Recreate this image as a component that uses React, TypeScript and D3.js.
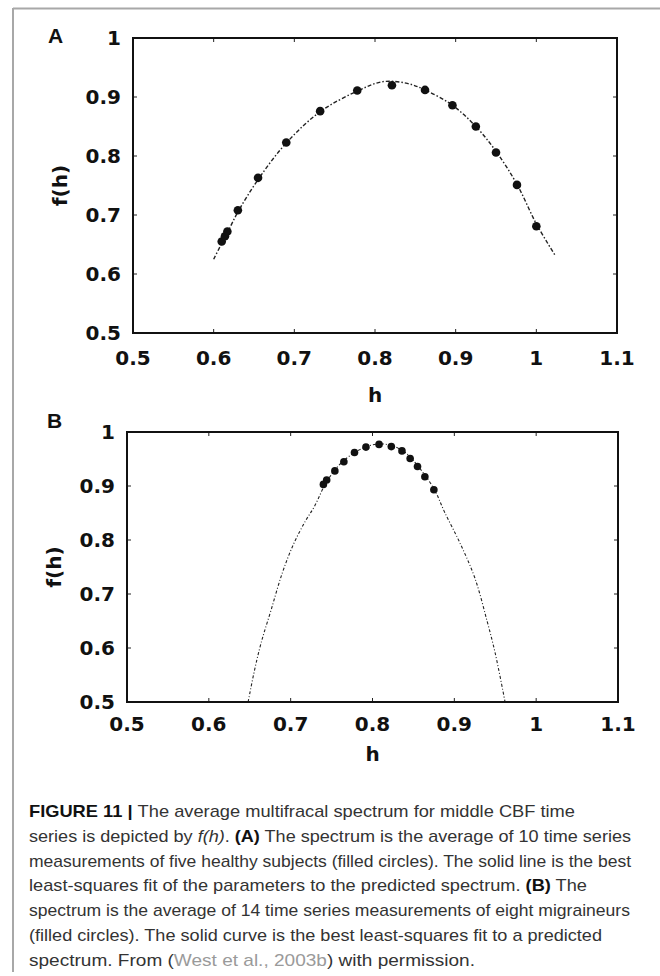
import React from "react";
import * as d3 from "d3";

// ---------- data ----------
const xTickValues = [0.5, 0.6, 0.7, 0.8, 0.9, 1, 1.1];
const xTickLabels = ["0.5", "0.6", "0.7", "0.8", "0.9", "1", "1.1"];
const yTickValues = [0.5, 0.6, 0.7, 0.8, 0.9, 1];
const yTickLabels = ["0.5", "0.6", "0.7", "0.8", "0.9", "1"];

// Panel A: healthy subjects
const pointsA_h = [0.61, 0.614, 0.617, 0.63, 0.655, 0.69, 0.732, 0.778, 0.821, 0.862, 0.896, 0.925, 0.95, 0.976, 1.0];
const pointsA_f = [0.655, 0.664, 0.672, 0.708, 0.763, 0.823, 0.876, 0.911, 0.92, 0.912, 0.886, 0.85, 0.806, 0.751, 0.681];
const fitA_h = [0.6, 0.61, 0.617, 0.63, 0.655, 0.69, 0.732, 0.778, 0.81, 0.84, 0.862, 0.896, 0.925, 0.95, 0.976, 1.0, 1.024];
const fitA_f = [0.625, 0.652, 0.67, 0.705, 0.76, 0.822, 0.875, 0.91, 0.926, 0.923, 0.912, 0.886, 0.85, 0.808, 0.752, 0.685, 0.63];

// Panel B: migraineurs
const pointsB_h = [0.74, 0.744, 0.754, 0.765, 0.778, 0.792, 0.808, 0.823, 0.836, 0.846, 0.855, 0.864, 0.875];
const pointsB_f = [0.903, 0.911, 0.928, 0.945, 0.962, 0.972, 0.977, 0.973, 0.965, 0.951, 0.936, 0.917, 0.893];
const fitB_h = [0.648, 0.656, 0.664, 0.676, 0.69, 0.704, 0.718, 0.729, 0.744, 0.76, 0.778, 0.795, 0.81, 0.825, 0.84, 0.855, 0.875, 0.888, 0.907, 0.925, 0.94, 0.95, 0.962];
const fitB_f = [0.5, 0.56, 0.61, 0.67, 0.74, 0.794, 0.835, 0.862, 0.908, 0.94, 0.962, 0.974, 0.978, 0.974, 0.962, 0.938, 0.895, 0.852, 0.794, 0.73, 0.65, 0.59, 0.5];

const xDomain = [0.5, 1.1];
const yDomain = [0.5, 1];

const captionLines = [
  [{ t: "FIGURE 11 | ", s: "b" }, { t: "The average multifracal spectrum for middle CBF time" }],
  [{ t: "series is depicted by " }, { t: "f(h)", s: "i" }, { t: ". " }, { t: "(A)", s: "b" }, { t: " The spectrum is the average of 10 time series" }],
  [{ t: "measurements of five healthy subjects (filled circles). The solid line is the best" }],
  [{ t: "least-squares fit of the parameters to the predicted spectrum. " }, { t: "(B)", s: "b" }, { t: " The" }],
  [{ t: "spectrum is the average of 14 time series measurements of eight migraineurs" }],
  [{ t: "(filled circles). The solid curve is the best least-squares fit to a predicted" }],
  [{ t: "spectrum. From (" }, { t: "West et al., 2003b", s: "g" }, { t: ") with permission." }],
];
const captionEnds = [575, 631, 631, 587, 630, 602, 475];

// ---------- drawing ----------
const tickFont = "'DejaVu Sans', Verdana, sans-serif";

function Panel({ letter, box, ph, pf, ch, cf, r, dash, lw, letterPos, ylabX, hBase, tickBase }) {
  const x = d3.scaleLinear().domain(xDomain).range([box.left, box.right]);
  const y = d3.scaleLinear().domain(yDomain).range([box.bottom, box.top]);
  const curveData = ch.map((h, i) => [h, cf[i]]);
  const clip = `clip-${letter}`;
  const line = d3
    .line()
    .x((d) => x(d[0]))
    .y((d) => y(d[1]))
    .curve(d3.curveCatmullRom.alpha(0.5));
  const tl = 4;
  return (
    <g>
      <defs>
        <clipPath id={clip}>
          <rect x={box.left} y={box.top} width={box.right - box.left} height={box.bottom - box.top} />
        </clipPath>
      </defs>
      <text x={letterPos[0]} y={letterPos[1]} fontFamily="'Liberation Sans', Arial, sans-serif" fontWeight="bold" fontSize={21} fill="#111">
        {letter}
      </text>
      {xTickValues.map((v) => (
        <g key={"xt" + v}>
          <line x1={x(v)} x2={x(v)} y1={box.bottom} y2={box.bottom - tl} stroke="#222" strokeWidth={1} />
          <line x1={x(v)} x2={x(v)} y1={box.top} y2={box.top + tl} stroke="#222" strokeWidth={1} />
        </g>
      ))}
      {yTickValues.map((v) => (
        <g key={"yt" + v}>
          <line x1={box.left} x2={box.left + tl} y1={y(v)} y2={y(v)} stroke="#222" strokeWidth={1} />
          <line x1={box.right} x2={box.right - tl} y1={y(v)} y2={y(v)} stroke="#222" strokeWidth={1} />
        </g>
      ))}
      <path d={line(curveData) || ""} fill="none" stroke="#222" strokeWidth={lw} strokeDasharray={dash} clipPath={`url(#${clip})`} />
      {ph.map((h, i) => (
        <circle key={"p" + i} cx={x(h)} cy={y(pf[i])} r={r} fill="#111" />
      ))}
      <rect x={box.left} y={box.top} width={box.right - box.left} height={box.bottom - box.top} fill="none" stroke="#111" strokeWidth={2} />
      {xTickValues.map((v, i) => (
        <text key={"xl" + v} x={x(v)} y={tickBase} textAnchor="middle" fontFamily={tickFont} fontWeight="bold" fontSize={20} fill="#111">
          {xTickLabels[i]}
        </text>
      ))}
      {yTickValues.map((v, i) => (
        <text key={"yl" + v} x={box.left - 12} y={y(v)} dy="0.36em" textAnchor="end" fontFamily={tickFont} fontWeight="bold" fontSize={20} fill="#111">
          {yTickLabels[i]}
        </text>
      ))}
      <text x={(box.left + box.right) / 2} y={hBase} textAnchor="middle" fontFamily={tickFont} fontWeight="bold" fontSize={20} fill="#111">
        h
      </text>
      <text
        transform={`translate(${ylabX},${(box.top + box.bottom) / 2}) rotate(-90)`}
        textAnchor="middle"
        fontFamily={tickFont}
        fontWeight="bold"
        fontSize={20}
        fill="#111"
      >
        f(h)
      </text>
    </g>
  );
}

export default function App() {
  const capX = 29;
  const capY0 = 817;
  const capStep = 24.8;
  return (
    <svg width={660} height={976} viewBox="0 0 660 976" style={{ position: "absolute", left: 0, top: 0, display: "block", background: "#fff" }}>
      <rect x={0} y={0} width={660} height={976} fill="#fff" />
      <line x1={13} x2={660} y1={8.5} y2={8.5} stroke="#a8a8a8" strokeWidth={2} />
      <line x1={13} x2={13} y1={8} y2={972} stroke="#a8a8a8" strokeWidth={2} />

      <Panel
        letter="A"
        box={{ left: 133, right: 617, top: 38, bottom: 333 }}
        ph={pointsA_h}
        pf={pointsA_f}
        ch={fitA_h}
        cf={fitA_f}
        r={4.3}
        dash="4 2 1.5 2"
        lw={1.4}
        letterPos={[48, 43]}
        ylabX={67}
        hBase={402}
        tickBase={365}
      />
      <Panel
        letter="B"
        box={{ left: 127, right: 618, top: 432, bottom: 702 }}
        ph={pointsB_h}
        pf={pointsB_f}
        ch={fitB_h}
        cf={fitB_f}
        r={3.8}
        dash="3 2 1 2"
        lw={1.1}
        letterPos={[47, 428]}
        ylabX={61}
        hBase={761}
        tickBase={731}
      />

      {captionLines.map((segs, i) => (
        <text
          key={"cap" + i}
          x={capX}
          y={capY0 + i * capStep}
          fontFamily="'Liberation Sans', Arial, sans-serif"
          fontSize={17}
          fill="#333"
          textLength={captionEnds[i] - capX}
          lengthAdjust="spacingAndGlyphs"
          style={{ whiteSpace: "pre" }}
        >
          {segs.map((s, j) => (
            <tspan
              key={j}
              fontWeight={s.s === "b" ? "bold" : "normal"}
              fontStyle={s.s === "i" ? "italic" : "normal"}
              fill={s.s === "g" ? "#9a9a9a" : s.s === "b" ? "#111" : "#333"}
            >
              {s.t}
            </tspan>
          ))}
        </text>
      ))}
    </svg>
  );
}
